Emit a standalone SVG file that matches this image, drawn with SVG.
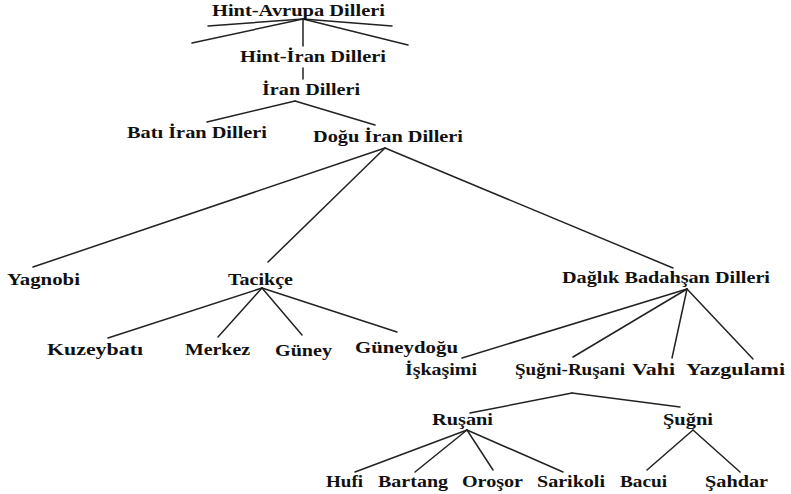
<svg xmlns="http://www.w3.org/2000/svg" width="791" height="494" viewBox="0 0 791 494">
<style>
.t{font-family:"Liberation Serif","Times New Roman",serif;font-weight:bold;font-size:16.5px;fill:#111}
.c line{stroke:#222;stroke-width:1.5;stroke-linecap:round}
</style>
<rect width="791" height="494" fill="#fff"/>
<g class="c" id="connectors">
<line x1="303" y1="19" x2="208" y2="26"/>
<line x1="303" y1="19" x2="192" y2="43"/>
<line x1="303" y1="19" x2="392" y2="26"/>
<line x1="303" y1="19" x2="408" y2="45"/>
<line x1="303" y1="19" x2="303" y2="46"/>
<line x1="303" y1="68" x2="303" y2="79"/>
<line x1="295" y1="101" x2="207" y2="122"/>
<line x1="295" y1="101" x2="375" y2="125"/>
<line x1="385" y1="148" x2="33" y2="267"/>
<line x1="385" y1="148" x2="268" y2="262"/>
<line x1="385" y1="148" x2="673" y2="268"/>
<line x1="262" y1="288" x2="108" y2="338"/>
<line x1="262" y1="288" x2="218" y2="337"/>
<line x1="262" y1="288" x2="302" y2="335"/>
<line x1="262" y1="288" x2="397" y2="332"/>
<line x1="687" y1="289" x2="462" y2="358"/>
<line x1="687" y1="289" x2="573" y2="357"/>
<line x1="687" y1="289" x2="672" y2="358"/>
<line x1="687" y1="289" x2="753" y2="359"/>
<line x1="572" y1="393" x2="470" y2="413"/>
<line x1="572" y1="393" x2="680" y2="407"/>
<line x1="467" y1="430" x2="355" y2="472"/>
<line x1="467" y1="430" x2="415" y2="472"/>
<line x1="467" y1="430" x2="493" y2="470"/>
<line x1="467" y1="430" x2="563" y2="472"/>
<line x1="693" y1="430" x2="647" y2="470"/>
<line x1="693" y1="430" x2="740" y2="472"/>
</g>
<g id="n-hint-avrupa"><text class="t" x="212" y="16" textLength="173" lengthAdjust="spacingAndGlyphs">Hint-Avrupa Dilleri</text></g>
<g id="n-hint-iran"><text class="t" x="240" y="62" textLength="146" lengthAdjust="spacingAndGlyphs">Hint-İran Dilleri</text></g>
<g id="n-iran"><text class="t" x="262" y="95" textLength="98" lengthAdjust="spacingAndGlyphs">İran Dilleri</text></g>
<g id="n-bati-iran"><text class="t" x="127" y="138" textLength="140" lengthAdjust="spacingAndGlyphs">Batı İran Dilleri</text></g>
<g id="n-dogu-iran"><text class="t" x="313" y="142" textLength="150" lengthAdjust="spacingAndGlyphs">Doğu İran Dilleri</text></g>
<g id="n-yagnobi"><text class="t" x="7" y="285" textLength="73" lengthAdjust="spacingAndGlyphs">Yagnobi</text></g>
<g id="n-tacikce"><text class="t" x="228" y="285" textLength="65" lengthAdjust="spacingAndGlyphs">Tacikçe</text></g>
<g id="n-daglik"><text class="t" x="562" y="283" textLength="208" lengthAdjust="spacingAndGlyphs">Dağlık Badahşan Dilleri</text></g>
<g id="n-kuzeybati"><text class="t" x="47" y="355" textLength="96" lengthAdjust="spacingAndGlyphs">Kuzeybatı</text></g>
<g id="n-merkez"><text class="t" x="185" y="355" textLength="65" lengthAdjust="spacingAndGlyphs">Merkez</text></g>
<g id="n-guney"><text class="t" x="275" y="356" textLength="57" lengthAdjust="spacingAndGlyphs">Güney</text></g>
<g id="n-guneydogu"><text class="t" x="355" y="353" textLength="103" lengthAdjust="spacingAndGlyphs">Güneydoğu</text></g>
<g id="n-iskasimi"><text class="t" x="405" y="375" textLength="72" lengthAdjust="spacingAndGlyphs">İşkaşimi</text></g>
<g id="n-sugni-rusani"><text class="t" x="515" y="375" textLength="110" lengthAdjust="spacingAndGlyphs">Şuğni-Ruşani</text></g>
<g id="n-vahi"><text class="t" x="632" y="375" textLength="43" lengthAdjust="spacingAndGlyphs">Vahi</text></g>
<g id="n-yazgulami"><text class="t" x="686" y="375" textLength="99" lengthAdjust="spacingAndGlyphs">Yazgulami</text></g>
<g id="n-rusani"><text class="t" x="432" y="425" textLength="61" lengthAdjust="spacingAndGlyphs">Ruşani</text></g>
<g id="n-sugni"><text class="t" x="663" y="425" textLength="50" lengthAdjust="spacingAndGlyphs">Şuğni</text></g>
<g id="n-hufi"><text class="t" x="326" y="487" textLength="37" lengthAdjust="spacingAndGlyphs">Hufi</text></g>
<g id="n-bartang"><text class="t" x="378" y="487" textLength="70" lengthAdjust="spacingAndGlyphs">Bartang</text></g>
<g id="n-orosor"><text class="t" x="462" y="487" textLength="61" lengthAdjust="spacingAndGlyphs">Oroşor</text></g>
<g id="n-sarikoli"><text class="t" x="537" y="487" textLength="68" lengthAdjust="spacingAndGlyphs">Sarikoli</text></g>
<g id="n-bacui"><text class="t" x="620" y="487" textLength="47" lengthAdjust="spacingAndGlyphs">Bacui</text></g>
<g id="n-sahdar"><text class="t" x="705" y="487" textLength="63" lengthAdjust="spacingAndGlyphs">Şahdar</text></g>
</svg>
